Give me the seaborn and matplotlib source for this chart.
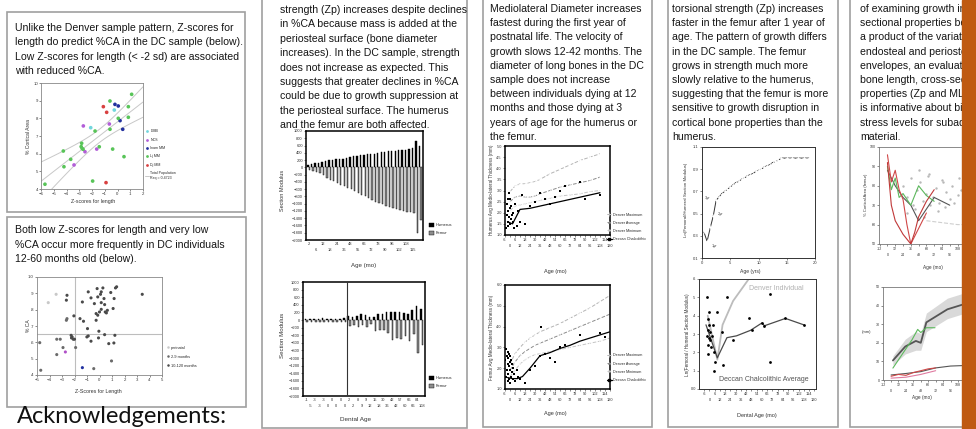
import numpy as np
import pandas as pd
import matplotlib
matplotlib.use("Agg")
import matplotlib.pyplot as plt
from matplotlib.patches import Rectangle, Patch
from matplotlib.lines import Line2D
import seaborn as sns

# ================= DATA =================
# Column 1, top: Z-scores for length vs % cortical area (DC sample)
a_labels = ['DMB', 'NCS', 'Inam MM', 'Lj MM', 'Dj MM']
a_colors = ['#72d6dc', '#b25ed8', '#23309e', '#58c458', '#d84040']
a_dmb_x = [-0.25, -2.1]
a_dmb_y = [8.47, 7.47]
a_ncs_x = [-2.68, -0.64, -1.63, -2.55, -3.41]
a_ncs_y = [7.57, 7.68, 6.26, 6.11, 5.36]
a_inam_x = [-0.2, 0.06, 0.2, 0.41]
a_inam_y = [8.79, 8.70, 7.87, 7.38]
a_lj_x = [1.11, -0.59, 0.85, 0.06, 0.85, -0.59, -1.76, -2.81, -2.85, -2.78, -2.7, -4.25,
          -1.43, -0.38, 0.51, -3.67, -4.2, -5.69, -1.95]
a_lj_y = [9.36, 8.98, 8.66, 8.0, 8.06, 7.38, 7.28, 6.59, 6.4, 6.3, 6.25, 6.15,
          6.39, 6.26, 5.83, 5.68, 5.26, 4.27, 4.45]
a_dj_x = [-1.11, -0.85, -0.9]
a_dj_y = [8.66, 8.34, 4.36]
a_xticks = [-6, -5, -4, -3, -2, -1, 0, 1, 2]
a_yticks = [4, 5, 6, 7, 8, 9, 10]

# Column 1, bottom: Z-score for length vs %CA by age group
b_labels = ['perinatal', '2-9 months', '10-120 months']
b_peri_x = [-3.47, -4.10]
b_peri_y = [0.894, 0.843]
b_29_x = [-4.78, -3.42, -3.14, -2.92, -3.42, -4.70, -1.91, 0.96, -0.46, -2.60, -2.65]
b_29_y = [0.598, 0.619, 0.619, 0.568, 0.525, 0.429, 0.568, 0.486, 0.439, 0.745, 0.735]
b_10_x = [1.37, 1.28, 0.27, -0.19, -0.90, 0.14, 0.08, 0.90, 0.36, -0.14, -0.68, -0.41, 0.14,
          0.41, 1.09, 1.17, 0.63, 0.14, -0.27, 0.0, -0.14, 0.46, 0.55, -1.37, -2.60, -2.65,
          -2.05, -1.56, -1.28, -0.27, -0.96, 3.42, -2.27, -2.19, -2.10, -2.24, -2.0, -1.01,
          -0.90, -0.68, -0.08, -0.05, 0.41, 1.23, 0.74, 1.15]
b_10_y = [0.94, 0.933, 0.933, 0.929, 0.909, 0.909, 0.894, 0.905, 0.868, 0.878, 0.872, 0.837,
          0.843, 0.831, 0.807, 0.868, 0.796, 0.802, 0.776, 0.786, 0.766, 0.786, 0.780, 0.847,
          0.888, 0.858, 0.762, 0.745, 0.729, 0.735, 0.684, 0.894, 0.643, 0.633, 0.619, 0.627,
          0.619, 0.633, 0.639, 0.607, 0.627, 0.668, 0.647, 0.643, 0.592, 0.596]
b_odd_x = [-2.73, -1.37]
b_odd_y = [0.541, 0.445]
b_cut_x = -2.0
b_cut_y = 0.65
b_xticks = [-5, -4, -3, -2, -1, 0, 1, 2, 3, 4, 5]
b_yticks = [0.4, 0.5, 0.6, 0.7, 0.8, 0.9, 1.0]
b_yticklabels = ['.4', '.5', '.6', '.7', '.8', '.9', '1.0']

# Column 2, top: section modulus by age (mo)
c2_top_age = [2, 4, 6, 9, 12, 15, 18, 21, 24, 30, 36, 42, 48, 52, 55, 60, 66, 69, 72, 75, 78,
              84, 90, 93, 96, 99, 102, 105, 108, 111, 115, 117, 120]
c2_top_hum = [60, 90, 110, 130, 150, 170, 190, 210, 220, 230, 240, 260, 280, 300, 320, 340, 350,
              360, 370, 380, 400, 420, 430, 440, 450, 460, 470, 480, 490, 500, 520, 720, 600]
c2_top_fem = [-80, -100, -120, -150, -200, -280, -350, -380, -420, -480, -520, -560, -600, -650,
              -700, -760, -800, -850, -900, -950, -980, -1020, -1060, -1100, -1120, -1150, -1180,
              -1200, -1220, -1240, -1260, -1800, -1450]
# Column 2, bottom: section modulus by dental age
c2_bot_age = [-1, -5, -3, -3, -3, 0, 0, 0, 0, 0, 2, 2, 8, 9, 9, 12, 15, 18, 30, 36, 42, 42, 57,
              60, 66, 66, 84, 108]
c2_bot_hum = [30, 30, 35, 30, 40, 30, 30, 35, 30, 40, 100, 80, 110, 160, 120, 80, 90, 170, 160,
              210, 220, 220, 200, 180, 160, 270, 380, 280]
c2_bot_fem = [-40, -50, -40, -50, -40, -40, -50, -40, -50, -60, -160, -120, -180, -130, -180,
              -100, -280, -270, -250, -330, -520, -480, -500, -430, -560, -380, -880, -650]
sm_ticks = list(range(-2000, 1001, 200))

# Column 3: medio-lateral thickness (mm)
den_age = [0, 6, 12, 18, 24, 30, 36, 48, 60, 72, 84, 96, 108]
hum_max = [2.95, 3.2, 3.3, 3.3, 3.35, 3.4, 3.5, 3.75, 3.95, 4.15, 4.35, 4.5, 4.65]
hum_avg = [2.5, 2.7, 2.75, 2.7, 2.7, 2.75, 2.85, 3.0, 3.15, 3.25, 3.35, 3.45, 3.6]
hum_min = [2.1, 2.3, 2.35, 2.4, 2.45, 2.5, 2.55, 2.65, 2.75, 2.8, 2.85, 2.95, 3.0]
hum_dc_line_age = [-3, 3, 12, 24, 36, 48, 60, 72, 84, 96, 108]
hum_dc_line = [1.6, 1.5, 2.15, 2.2, 2.3, 2.4, 2.5, 2.6, 2.7, 2.8, 2.9]
hum_dc_age = [-5, -4, -4, -3, -3, -2, -2, -1, -1, 0, 0, 0, 1, 1, 2, 3, 4, 5, 6, 8, 10, 12, 14,
              18, 24, 30, 36, 42, 48, 54, 60, 66, 84, 90, 108]
hum_dc_val = [1.3, 1.9, 2.4, 1.6, 2.6, 1.4, 2.1, 1.8, 2.9, 1.5, 2.2, 2.6, 1.7, 2.3, 1.9, 1.6,
              2.0, 1.3, 2.4, 1.4, 2.1, 1.6, 2.8, 1.5, 2.3, 2.5, 2.9, 2.6, 2.4, 2.7, 3.0, 3.2,
              3.4, 2.6, 2.8]
den_age_f = [0, 6, 12, 18, 24, 30, 36, 48, 60, 72, 84, 96, 108, 120]
fem_max = [2.2, 2.7, 3.0, 3.25, 3.45, 3.6, 3.75, 3.95, 4.15, 4.4, 4.65, 4.9, 5.2, 5.5]
fem_avg = [1.9, 2.3, 2.6, 2.8, 2.95, 3.1, 3.2, 3.4, 3.6, 3.8, 4.0, 4.2, 4.4, 4.6]
fem_min = [1.6, 1.9, 2.2, 2.4, 2.55, 2.65, 2.7, 2.8, 2.9, 3.0, 3.1, 3.2, 3.3, 3.45]
fem_dc_line_age = [-3, 3, 9, 15, 24, 36, 48, 60, 72, 84, 96, 108, 120]
fem_dc_line = [1.55, 1.5, 1.5, 1.6, 2.0, 2.6, 2.75, 2.95, 3.1, 3.3, 3.45, 3.6, 3.75]
fem_dc_age = [-6, -5, -5, -4, -4, -3, -3, -3, -2, -2, -1, -1, -1, 0, 0, 0, 0, 1, 1, 2, 2, 3,
              4, 5, 6, 8, 10, 12, 18, 24, 30, 36, 37, 42, 48, 54, 60, 66, 84, 108, 114]
fem_dc_val = [2.4, 1.6, 2.9, 1.9, 2.6, 1.4, 2.2, 2.8, 1.7, 2.5, 1.5, 2.1, 2.7, 1.3, 1.9, 2.3,
              2.6, 1.6, 2.4, 1.8, 2.2, 1.5, 2.0, 1.7, 1.4, 1.9, 1.6, 1.5, 1.3, 1.9, 2.1, 2.6,
              4.0, 2.7, 2.5, 2.3, 3.0, 3.1, 3.6, 3.7, 3.5]
c3_legend = ['Denver Maximum', 'Denver Average', 'Denver Minimum', 'Deccan Chalcolithic']
age_ticks = list(range(-6, 121, 6))

# Column 4, top: ln(femoral/humeral section modulus), Denver, by age (yrs)
c4_yr = [0.3, 0.9, 1.5, 2.0, 2.5, 3, 3.5, 4, 4.5, 5, 5.5, 6, 6.5, 7, 7.5, 8, 8.5, 9, 9.5, 10,
         10.5, 11, 11.5, 12, 12.5, 13, 13.5, 14, 15, 16, 17, 18, 19]
c4_ratio = [0.34, 0.25, 0.38, 0.48, 0.62, 0.65, 0.68, 0.70, 0.72, 0.74, 0.76, 0.78, 0.79, 0.81,
            0.82, 0.84, 0.85, 0.86, 0.88, 0.89, 0.90, 0.92, 0.93, 0.94, 0.96, 0.97, 0.98, 1.0,
            1.0, 1.0, 1.0, 1.0, 1.0]
c4_marks = ['1yr', '2yr', '3yr']
c4_mark_idx = [1, 3, 4]
# Column 4, bottom: by dental age (mo)
c4b_den_age = [-2, 9, 15, 27, 45, 55]
c4b_den_val = [0.40, 0.16, 0.35, 0.48, 0.60, 0.68]
c4b_avg_age = [-4, 9, 20, 31, 47, 60, 63, 87, 108]
c4b_avg_val = [0.35, 0.17, 0.28, 0.29, 0.32, 0.36, 0.345, 0.385, 0.35]
c4b_pt_age = [-3, -1, 9, -2, -1, -2, 0.5, -2.5, -0.5, 0.5, -2, 2, -2, 4, 3, 5, 6, 5, 14, 15,
              19.5, 27, 45, 49, 60, 63, 69, 69, 87, 108]
c4b_pt_val = [0.50, 0.42, 0.42, 0.38, 0.35, 0.32, 0.31, 0.29, 0.28, 0.27, 0.24, 0.23, 0.19,
              0.35, 0.29, 0.20, 0.15, 0.10, 0.31, 0.13, 0.50, 0.27, 0.39, 0.32, 0.36, 0.345,
              0.52, 0.145, 0.385, 0.35]

# Column 5, top: % cortical area (femur)
c5_pts_age = [24, 30, 36, 40, 45, 50, 54, 60, 64, 70, 75, 80, 84, 90, 96, 100, 108, 114, 120,
              126, 132, 138, 144, 150, 156, 30, 42, 56, 66, 78, 88, 102, 118, 128, 140, 152,
              48, 62, 86, 110, 134]
c5_pts_val = [80, 74, 84, 70, 78, 82, 72, 76, 86, 74, 79, 71, 83, 77, 73, 80, 75, 78, 72, 76,
              74, 79, 73, 75, 77, 66, 68, 64, 70, 67, 69, 71, 66, 70, 68, 72, 88, 85, 82, 84, 81]
c5_red1_age = [0, 6, 12, 18, 24, 30, 36, 48, 60]
c5_red1 = [96, 82, 88, 78, 73, 60, 50, 58, 66]
c5_red2_age = [0, 6, 12, 24, 36, 42, 48, 60, 72]
c5_red2 = [92, 70, 62, 55, 50, 56, 64, 72, 78]
c5_grn_age = [0, 6, 12, 18, 24, 36, 48, 60, 72]
c5_grn = [90, 78, 84, 74, 76, 70, 80, 75, 72]
c5_dk_age = [0, 12, 24, 36, 48, 60, 72, 84, 96]
c5_dk = [88, 80, 74, 70, 62, 68, 74, 72, 70]
c5_trend_age = [60, 84, 108, 132]
c5_trend = [62, 61, 60, 60]
# Column 5, bottom: length (mm)
c5b_dk_age = [3, 23, 40, 48, 57, 91, 120]
c5b_dk = [10.5, 18, 21, 20, 31, 38, 41]
c5b_lo = [8, 14, 16, 16, 26, 33, 36]
c5b_hi = [13, 22, 26, 25, 36, 44, 47]
c5b_grn_age = [3, 23, 34, 43, 48, 57, 71]
c5b_grn = [6.4, 16.3, 21.7, 27.2, 25.5, 28.1, 28.1]
c5b_low_dk_age = [0, 24, 48, 72, 96, 120]
c5b_low_dk = [2.7, 3.5, 4.5, 6.5, 7.5, 7.8]
c5b_low_red_age = [0, 12, 24, 36, 48, 60, 72]
c5b_low_red = [2, 3, 2.5, 4, 5, 6, 6.5]
c5b_low_pink_age = [0, 24, 48, 72]
c5b_low_pink = [1, 1.5, 3, 5]
c5_ticks = list(range(-12, 121, 12))

# Poster text
t_a = ["Unlike the Denver sample pattern, Z-scores for",
       "length do predict %CA in the DC sample (below).",
       "Low Z-scores for length (< -2 sd) are associated",
       "with reduced %CA."]
t_b = ["Both low Z-scores for length and very low",
       "%CA occur more frequently in DC individuals",
       "12-60 months old (below)."]
t_c2 = ["strength (Zp) increases despite declines",
        "in %CA because mass is added at the",
        "periosteal surface (bone diameter",
        "increases). In the DC sample, strength",
        "does not increase as expected. This",
        "suggests that greater declines in %CA",
        "could be due to growth suppression at",
        "the periosteal surface. The humerus",
        "and the femur are both affected."]
t_c3 = ["Mediolateral Diameter increases",
        "fastest during the first year of",
        "postnatal life. The velocity of",
        "growth slows 12-42 months. The",
        "diameter of long bones in the DC",
        "sample does not increase",
        "between individuals dying at 12",
        "months and those dying at 3",
        "years of age for the humerus or",
        "the femur."]
t_c4 = ["torsional strength (Zp) increases",
        "faster in the femur after 1 year of",
        "age. The pattern of growth differs",
        "in the DC sample. The femur",
        "grows in strength much more",
        "slowly relative to the humerus,",
        "suggesting that the femur is more",
        "sensitive to growth disruption in",
        "cortical bone properties than the",
        "humerus."]
t_c5 = ["of examining growth in",
        "sectional properties be-",
        "a product of the variatio",
        "endosteal and periosteal",
        "envelopes, an evaluation",
        "bone length, cross-sec-",
        "properties (Zp and ML",
        "is informative about bio-",
        "stress levels for subadu",
        "material."]

# ================= FIGURE =================
sns.set_style("white")
plt.rcParams['font.family'] = ['Liberation Sans', 'DejaVu Sans']

W, H = 976, 429
fig = plt.figure(figsize=(W / 100, H / 100), dpi=100)
fig.patch.set_facecolor('white')


def px_axes(l, t, r, b):
    return fig.add_axes([l / W, 1 - b / H, (r - l) / W, (b - t) / H])


page = px_axes(0, 0, W, H)
page.set_xlim(0, W)
page.set_ylim(H, 0)
page.axis('off')

BORDER = '#a0a0a0'
for (l, t, r, b) in [(7, 12, 245, 212), (7, 217, 246, 407), (262, -5, 467, 428),
                     (483, -5, 652, 427), (668, -5, 838, 427), (850, -5, 1000, 427)]:
    page.add_patch(Rectangle((l, t), r - l, b - t, fill=False, ec=BORDER, lw=1.2))


def para(x, y0, lines, dy, size=7.55):
    for i, s in enumerate(lines):
        page.text(x, y0 + i * dy, s, fontsize=size, va='center', ha='left', color='#151515')


para(15, 28, t_a, 14.3)
para(15, 230, t_b, 14.5)
para(280, 10, t_c2, 14.4)
para(490, 9, t_c3, 14.2)
para(672, 9, t_c4, 14.2)
para(860, 9, t_c5, 14.2)

page.text(17, 423, "Acknowledgements:", fontsize=17, family=['Lato', 'DejaVu Sans'],
          va='baseline', ha='left', color='#111111')

TS = 3.1


def style(ax, lw=0.6, color='#555555', ts=TS):
    for s in ax.spines.values():
        s.set_visible(True)
        s.set_linewidth(lw)
        s.set_color(color)
    ax.tick_params(labelsize=ts, length=1.5, width=0.4, pad=0.8, colors='#333333',
                   bottom=True, left=True, direction='out')
    ax.set_xlabel('')
    ax.set_ylabel('')
    ax.set_facecolor('white')


def two_row(vals):
    return [str(v) if k % 2 == 0 else '\n' + str(v) for k, v in enumerate(vals)]


def vlabel(x, y, s, size=3.6):
    page.text(x, y, s, rotation=90, fontsize=size, ha='center', va='center', color='#333333')


def hlabel(x, y, s, size=3.8):
    page.text(x, y, s, fontsize=size, ha='center', va='center', color='#333333')


# ---- Column 1 top ----
axA = px_axes(41, 83, 143, 189)
dfA = pd.DataFrame({
    'z': a_dmb_x + a_ncs_x + a_inam_x + a_lj_x + a_dj_x,
    'ca': a_dmb_y + a_ncs_y + a_inam_y + a_lj_y + a_dj_y,
    'grp': ([a_labels[0]] * len(a_dmb_x) + [a_labels[1]] * len(a_ncs_x) +
            [a_labels[2]] * len(a_inam_x) + [a_labels[3]] * len(a_lj_x) +
            [a_labels[4]] * len(a_dj_x))})
pal_a = dict(zip(a_labels, a_colors))
sns.scatterplot(data=dfA, x='z', y='ca', hue='grp', palette=pal_a, s=7, linewidth=0,
                ax=axA, legend=False, zorder=3)
xa, ya = dfA.z.values, dfA.ca.values
slope, icpt = np.polyfit(xa, ya, 1)
xs = np.linspace(-6, 2, 60)
fit = icpt + slope * xs
resid = ya - (icpt + slope * xa)
s_err = np.sqrt(np.sum(resid ** 2) / (len(xa) - 2))
se = s_err * np.sqrt(1 / len(xa) + (xs - xa.mean()) ** 2 / np.sum((xa - xa.mean()) ** 2))
for yv in (fit, fit + 2.03 * se, fit - 2.03 * se):
    axA.plot(xs, yv, color='#c8c8c8', lw=0.7, zorder=2)
axA.set_xlim(-6, 2)
axA.set_ylim(4, 10)
axA.set_xticks(a_xticks)
axA.set_yticks(a_yticks)
style(axA, color='#888888')
vlabel(29, 136, "% Cortical Area")
hlabel(93, 202, "Z-scores for length")
hA = [Line2D([], [], ls='', marker='o', ms=2, color=c, mec='none') for c in a_colors]
hA.append(Line2D([], [], color='#c8c8c8', lw=0.7))
fig.legend(hA, a_labels + ['Total Population\nRsq = 0.4723'], loc='upper left',
           bbox_to_anchor=(144 / W, 1 - 128 / H), fontsize=2.6, frameon=False,
           handlelength=1.0, handletextpad=0.4, labelspacing=1.2, borderaxespad=0)

# ---- Column 1 bottom ----
axB = px_axes(37, 277, 162, 375)
dfB = pd.DataFrame({
    'z': b_peri_x + b_29_x + b_10_x,
    'ca': b_peri_y + b_29_y + b_10_y,
    'grp': [b_labels[0]] * len(b_peri_x) + [b_labels[1]] * len(b_29_x) +
           [b_labels[2]] * len(b_10_x)})
pal_b = {b_labels[0]: '#c8c8c8', b_labels[1]: '#6a6a6a', b_labels[2]: '#4a4a4a'}
sns.scatterplot(data=dfB, x='z', y='ca', hue='grp', palette=pal_b, s=5, linewidth=0,
                ax=axB, legend=False, zorder=3)
sns.scatterplot(x=b_odd_x, y=b_odd_y, hue=['a', 'b'], palette=['#b050c8', '#2030a0'],
                s=5, linewidth=0, ax=axB, legend=False, zorder=3)
axB.axvline(b_cut_x, color='#bdbdbd', lw=0.8, zorder=1)
axB.axhline(b_cut_y, color='#bdbdbd', lw=0.8, zorder=1)
axB.set_xlim(-5, 5)
axB.set_ylim(0.4, 1.0)
axB.set_xticks(b_xticks)
axB.set_yticks(b_yticks)
axB.set_yticklabels(b_yticklabels)
style(axB, color='#888888')
vlabel(28, 326, "% CA")
hlabel(98, 392, "Z-Scores for Length")
hB = [Line2D([], [], ls='', marker='o', ms=1.8, color=pal_b[k], mec='none') for k in b_labels]
fig.legend(hB, b_labels, loc='upper left', bbox_to_anchor=(165 / W, 1 - 344 / H),
           fontsize=2.8, frameon=False, handlelength=0.8, handletextpad=0.4,
           labelspacing=1.3, borderaxespad=0)

# ---- Column 2 bar charts ----
pal_bone = {'Humerus': 'black', 'Femur': '#8c8c8c'}


def bone_bars(ax, hum, fem):
    n = len(hum)
    df = pd.DataFrame({'cat': list(range(n)) * 2, 'sm': hum + fem,
                       'bone': ['Humerus'] * n + ['Femur'] * n})
    sns.barplot(data=df, x='cat', y='sm', hue='bone', palette=pal_bone, edgecolor='black',
                linewidth=0.3, width=0.75, dodge=True, ax=ax, legend=False, zorder=2)
    ax.set_ylim(-2000, 1000)
    ax.set_yticks(sm_ticks)
    ax.set_xlim(-0.8, n - 0.2)
    style(ax, lw=1.1, color='black', ts=2.9)
    ax.tick_params(axis='x', length=0, pad=1.5)


axT = px_axes(306, 131, 423, 240)
bone_bars(axT, c2_top_hum, c2_top_fem)
tk = list(range(0, 31, 2))
axT.set_xticks(tk)
axT.set_xticklabels(two_row([c2_top_age[i] for i in tk]), linespacing=1.6)
vlabel(282, 190, "Section Modulus", 4.0)
hlabel(364, 266, "Age (mo)", 4.4)

axD = px_axes(303, 282, 425, 396)
bone_bars(axD, c2_bot_hum, c2_bot_fem)
axD.set_xticks(range(len(c2_bot_age)))
axD.set_xticklabels(two_row(c2_bot_age), linespacing=1.6)
axD.axvline(9.5, color='#333333', lw=0.8, zorder=3)
vlabel(282, 335, "Section Modulus", 4.4)
hlabel(355, 419, "Dental Age", 4.6)

hBone = [Patch(facecolor='black', edgecolor='black', lw=0.3),
         Patch(facecolor='#8c8c8c', edgecolor='black', lw=0.3)]
for ytop in (221, 374):
    fig.legend(hBone, ['Humerus', 'Femur'], loc='upper left',
               bbox_to_anchor=(427 / W, 1 - ytop / H), fontsize=2.9, frameon=False,
               handlelength=1.4, handleheight=1.3, handletextpad=0.3, labelspacing=0.9,
               borderaxespad=0)

# ---- Column 3 line charts ----
st_max = dict(color='#b4b4b4', linestyle='--', lw=0.7, marker='+', ms=2.2, mew=0.5)
st_avg = dict(color='#8a8a8a', linestyle='--', lw=0.7, marker='^', ms=1.6, mfc='none', mew=0.4)
st_min = dict(color='#c4c4c4', linestyle='--', lw=0.7, marker='o', ms=1.6, mfc='none', mew=0.4)


def c3_chart(ax, ages, mx, av, mn, la, lv, pa, pv, ylim, yticks):
    sns.lineplot(x=ages, y=mx, ax=ax, estimator=None, sort=False, **st_max)
    sns.lineplot(x=ages, y=av, ax=ax, estimator=None, sort=False, **st_avg)
    sns.lineplot(x=ages, y=mn, ax=ax, estimator=None, sort=False, **st_min)
    sns.lineplot(x=la, y=lv, ax=ax, estimator=None, sort=False, color='black', lw=0.9)
    sns.scatterplot(x=pa, y=pv, ax=ax, color='black', marker='s', s=3, linewidth=0, zorder=4)
    ax.set_xlim(-6, 120)
    ax.set_ylim(*ylim)
    ax.set_yticks(yticks)
    ax.set_yticklabels([f"{v:.1f}" for v in yticks])
    ax.set_xticks(age_ticks)
    ax.set_xticklabels(two_row(age_ticks), linespacing=1.5)
    style(ax, lw=1.1, color='black', ts=2.8)


hC3 = [Line2D([], [], **st_max), Line2D([], [], **st_avg), Line2D([], [], **st_min),
       Line2D([], [], color='black', lw=0.9, marker='s', ms=1.6)]

axH = px_axes(505, 146, 610, 235)
c3_chart(axH, den_age, hum_max, hum_avg, hum_min, hum_dc_line_age, hum_dc_line,
         hum_dc_age, hum_dc_val, (1.0, 5.0), [1.0, 1.5, 2.0, 2.5, 3.0, 3.5, 4.0, 4.5, 5.0])
vlabel(491, 190, "Humerus Avg Medio-lateral Thickness (mm)", 3.3)
hlabel(555, 271, "Age (mo)", 4.0)
fig.legend(hC3, c3_legend, loc='upper left', bbox_to_anchor=(605 / W, 1 - 211 / H),
           fontsize=2.7, frameon=False, handlelength=1.4, handletextpad=0.3,
           labelspacing=1.1, borderaxespad=0)

axF = px_axes(505, 285, 610, 389)
c3_chart(axF, den_age_f, fem_max, fem_avg, fem_min, fem_dc_line_age, fem_dc_line,
         fem_dc_age, fem_dc_val, (1.0, 6.0), [1.0, 2.0, 3.0, 4.0, 5.0, 6.0])
vlabel(491, 337, "Femur Avg Medio-lateral Thickness (mm)", 3.3)
hlabel(555, 414, "Age (mo)", 4.0)
fig.legend(hC3, c3_legend, loc='upper left', bbox_to_anchor=(605 / W, 1 - 352 / H),
           fontsize=2.7, frameon=False, handlelength=1.4, handletextpad=0.3,
           labelspacing=1.1, borderaxespad=0)

# ---- Column 4 ----
axR = px_axes(702, 147, 815, 258)
sns.lineplot(x=c4_yr, y=c4_ratio, ax=axR, estimator=None, sort=False, color='#333333',
             lw=0.7, marker='+', ms=2.5, mew=0.6)
for lab, i, dx, dy in zip(c4_marks, c4_mark_idx, [3, 3, -8], [-3, 1, 2]):
    axR.annotate(lab, (c4_yr[i], c4_ratio[i]), xytext=(dx, dy), textcoords='offset points',
                 fontsize=2.9, color='#444444', ha='left', va='center')
axR.set_xlim(0, 20)
axR.set_ylim(0.1, 1.1)
axR.set_xticks([0, 5, 10, 15, 20])
axR.set_yticks([0.1, 0.3, 0.5, 0.7, 0.9, 1.1])
axR.set_yticklabels(['0.1', '0.3', '0.5', '0.7', '0.9', '1.1'])
style(axR, lw=0.7, color='#333333', ts=3.0)
vlabel(686, 200, "Ln(Femoral/Humeral Section Modulus)", 3.2)
hlabel(750, 271, "Age (yrs)", 3.6)

axL = px_axes(699, 279, 816, 389)
sns.lineplot(x=c4b_den_age, y=c4b_den_val, ax=axL, estimator=None, sort=False,
             color='#bcbcbc', lw=1.3)
sns.lineplot(x=c4b_avg_age, y=c4b_avg_val, ax=axL, estimator=None, sort=False,
             color='#4a4a4a', lw=0.9)
sns.scatterplot(x=c4b_pt_age, y=c4b_pt_val, ax=axL, color='black', s=4, linewidth=0, zorder=4)
axL.text(0.66, 0.91, "Denver Individual", transform=axL.transAxes, fontsize=5.0,
         color='#b0b0b0', ha='center', va='center')
axL.text(0.55, 0.09, "Deccan Chalcolithic Average", transform=axL.transAxes, fontsize=5.0,
         color='#555555', ha='center', va='center')
axL.set_xlim(-12, 122)
axL.set_ylim(0.0, 0.6)
axL.set_yticks([0, 0.1, 0.2, 0.3, 0.4, 0.5, 0.6])
axL.set_yticklabels(['0.0', '.1', '.2', '.3', '.4', '.5', '.6'])
axL.set_xticks(age_ticks)
axL.set_xticklabels(two_row(age_ticks), linespacing=1.5)
style(axL, lw=0.7, color='#333333', ts=2.8)
vlabel(688, 335, "Ln(Femoral / Humeral Section Modulus)", 3.3)
hlabel(757, 416, "Dental Age (mo)", 4.0)

# ---- Column 5 ----
axP = px_axes(879, 147, 966, 244)
sns.scatterplot(x=c5_pts_age, y=c5_pts_val, ax=axP, color='#b8b8b8', s=3, linewidth=0)
sns.lineplot(x=c5_trend_age, y=c5_trend, ax=axP, estimator=None, color='#cfcfcf', lw=0.8,
             linestyle='--')
sns.lineplot(x=c5_dk_age, y=c5_dk, ax=axP, estimator=None, color='#555555', lw=0.8)
sns.lineplot(x=c5_grn_age, y=c5_grn, ax=axP, estimator=None, color='#5cb85c', lw=0.8)
sns.lineplot(x=c5_red1_age, y=c5_red1, ax=axP, estimator=None, color='#d04848', lw=0.8)
sns.lineplot(x=c5_red2_age, y=c5_red2, ax=axP, estimator=None, color='#c03838', lw=0.8)
axP.set_xlim(-13, 121)
axP.set_ylim(50, 100)
axP.set_yticks([50, 60, 70, 80, 90, 100])
axP.set_xticks(c5_ticks)
axP.set_xticklabels(two_row(c5_ticks), linespacing=1.5)
style(axP, lw=0.6, color='#777777', ts=2.6)
vlabel(866, 195, "% Cortical Area (femur)", 3.0)
hlabel(933, 267, "Age (mo)", 3.4)

axQ = px_axes(883, 287, 966, 380)
axQ.fill_between(c5b_dk_age, c5b_lo, c5b_hi, color='#d9d9d9', lw=0)
sns.lineplot(x=c5b_dk_age, y=c5b_dk, ax=axQ, estimator=None, color='#555555', lw=1.3)
sns.lineplot(x=c5b_grn_age, y=c5b_grn, ax=axQ, estimator=None, color='#5cb85c', lw=0.8)
sns.lineplot(x=c5b_low_dk_age, y=c5b_low_dk, ax=axQ, estimator=None, color='#555555', lw=0.8)
sns.lineplot(x=c5b_low_red_age, y=c5b_low_red, ax=axQ, estimator=None, color='#d04848', lw=0.8)
sns.lineplot(x=c5b_low_pink_age, y=c5b_low_pink, ax=axQ, estimator=None, color='#e07aa0',
             lw=0.8)
axQ.set_xlim(-13, 121)
axQ.set_ylim(0, 50)
axQ.set_yticks([0, 10, 20, 30, 40, 50])
axQ.set_xticks(c5_ticks)
axQ.set_xticklabels(two_row(c5_ticks), linespacing=1.5)
style(axQ, lw=0.6, color='#777777', ts=2.6)
hlabel(867, 332, "(mm)", 3.0)
hlabel(922, 398, "Age (mo)", 3.4)

# orange side band
fig.add_artist(Rectangle((962 / W, 0), 20 / W, 1, transform=fig.transFigure,
                         color='#bf5a12', zorder=20))

fig.savefig("out.png", dpi=100, facecolor='white')
